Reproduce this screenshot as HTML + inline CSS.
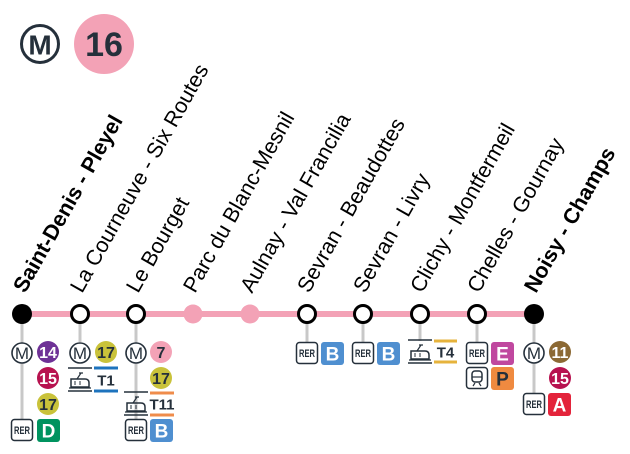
<!DOCTYPE html>
<html><head><meta charset="utf-8"><style>
html,body{margin:0;padding:0;background:#fff;}
svg{display:block;font-family:"Liberation Sans",Arial,sans-serif;}
</style></head><body>
<svg width="630" height="454" viewBox="0 0 630 454" xmlns="http://www.w3.org/2000/svg">
<defs>
  <g id="M"><circle r="10" fill="#fff" stroke="#25303b" stroke-width="1.6"/><text y="6" text-anchor="middle" font-size="17" font-weight="normal" fill="#25303b">M</text></g>
  <g id="RER"><rect x="-10.5" y="-10.5" width="21" height="21" rx="3" fill="#fff" stroke="#25303b" stroke-width="1.5"/><text y="4" text-anchor="middle" font-size="11" font-weight="bold" fill="#25303b" textLength="16" lengthAdjust="spacingAndGlyphs">RER</text></g>
  <g id="TRAM"><line x1="-12" y1="-12" x2="12" y2="-12" stroke="#25303b" stroke-width="1.5"/><line x1="-12" y1="11" x2="12" y2="11" stroke="#25303b" stroke-width="1.5"/>
    <path d="M-9 7 V-1 H5 Q9 -1 9 3 V7 Z" fill="none" stroke="#25303b" stroke-width="1.5"/><path d="M-3 -1 L1 -7 M-1 -7 H3" stroke="#25303b" stroke-width="1.2" fill="none"/><line x1="-11" y1="8" x2="11" y2="8" stroke="#25303b" stroke-width="1.2"/><path d="M-5 1 V5 M0 1 V5" stroke="#25303b" stroke-width="1"/></g>
  <g id="TRAIN"><rect x="-10.5" y="-10.5" width="21" height="21" rx="3" fill="#fff" stroke="#25303b" stroke-width="1.5"/><rect x="-5" y="-7" width="10" height="11" rx="3" fill="none" stroke="#25303b" stroke-width="1.5"/><line x1="-5" y1="-1" x2="5" y2="-1" stroke="#25303b" stroke-width="1.2"/><path d="M-4 8 L-2 5 M4 8 L2 5" stroke="#25303b" stroke-width="1.2"/></g>
</defs>

<circle cx="40" cy="44" r="18.5" fill="#fff" stroke="#25303b" stroke-width="3"/>
<text x="40" y="54.5" text-anchor="middle" font-size="28" font-weight="bold" fill="#25303b">M</text>
<circle cx="104" cy="44" r="30" fill="#f3a2b6"/>
<text x="104" y="56" text-anchor="middle" font-size="34" font-weight="bold" fill="#25303b">16</text>

<g font-size="21.5" fill="#000">
<text transform="translate(25,294) rotate(-60.5)" font-weight="bold">Saint-Denis - Pleyel</text>
<text transform="translate(82,294) rotate(-60.5)">La Courneuve - Six Routes</text>
<text transform="translate(138,294) rotate(-60.5)">Le Bourget</text>
<text transform="translate(195,294) rotate(-60.5)">Parc du Blanc-Mesnil</text>
<text transform="translate(252,294) rotate(-60.5)">Aulnay - Val Francilia</text>
<text transform="translate(309,294) rotate(-60.5)">Sevran - Beaudottes</text>
<text transform="translate(365,294) rotate(-60.5)">Sevran - Livry</text>
<text transform="translate(422,294) rotate(-60.5)">Clichy - Montfermeil</text>
<text transform="translate(479,294) rotate(-60.5)">Chelles - Gournay</text>
<text transform="translate(536,294) rotate(-60.5)" font-weight="bold">Noisy - Champs</text>
</g>

<g stroke="#c8c8c8" stroke-width="3">
<line x1="22" y1="314" x2="22" y2="420"/>
<line x1="80" y1="314" x2="80" y2="342"/>
<line x1="136" y1="314" x2="136" y2="420"/>
<line x1="307" y1="314" x2="307" y2="342"/>
<line x1="363" y1="314" x2="363" y2="342"/>
<line x1="420" y1="314" x2="420" y2="341"/>
<line x1="477" y1="314" x2="477" y2="342"/>
<line x1="534" y1="314" x2="534" y2="394"/>
</g>

<line x1="22" y1="314" x2="534" y2="314" stroke="#f3a2b6" stroke-width="6"/>
<circle cx="22" cy="314" r="10" fill="#000"/>
<circle cx="534" cy="314" r="10" fill="#000"/>
<g fill="#fff" stroke="#000" stroke-width="3">
<circle cx="80" cy="314" r="8.5"/><circle cx="136" cy="314" r="8.5"/>
<circle cx="307" cy="314" r="8.5"/><circle cx="363" cy="314" r="8.5"/>
<circle cx="420" cy="314" r="8.5"/><circle cx="477" cy="314" r="8.5"/>
</g>
<circle cx="193" cy="314" r="9.5" fill="#f3a2b6"/>
<circle cx="250" cy="314" r="9.5" fill="#f3a2b6"/>

<g font-weight="bold" text-anchor="middle" font-size="16">
<use href="#M" x="22" y="353"/>
<circle cx="48" cy="352" r="11" fill="#6e3196"/><text x="48" y="358" fill="#fff">14</text>
<circle cx="48" cy="378" r="11" fill="#b7124f"/><text x="48" y="384" fill="#fff">15</text>
<circle cx="48" cy="404" r="11" fill="#c9c23a"/><text x="48" y="410" fill="#25303b">17</text>
<use href="#RER" x="22" y="430"/>
<rect x="37" y="419" width="23" height="23" rx="3" fill="#00935f"/><text x="48.5" y="437.5" font-size="19" fill="#fff">D</text>

<use href="#M" x="80" y="353"/>
<circle cx="106" cy="352" r="11" fill="#c9c23a"/><text x="106" y="358" fill="#25303b">17</text>
<use href="#TRAM" x="80" y="380"/>
<line x1="94" y1="368" x2="118" y2="368" stroke="#1d73bd" stroke-width="3"/>
<line x1="94" y1="391" x2="118" y2="391" stroke="#1d73bd" stroke-width="3"/>
<text x="106" y="385.5" font-size="15" fill="#25303b">T1</text>

<use href="#M" x="136" y="353"/>
<circle cx="161" cy="352" r="11" fill="#f3a2b6"/><text x="161" y="358" fill="#25303b">7</text>
<circle cx="161" cy="378" r="11" fill="#c9c23a"/><text x="161" y="384" fill="#25303b">17</text>
<use href="#TRAM" x="136" y="404"/>
<line x1="150" y1="393" x2="174" y2="393" stroke="#ef8c4b" stroke-width="3"/>
<line x1="150" y1="415" x2="174" y2="415" stroke="#ef8c4b" stroke-width="3"/>
<text x="162" y="409.5" font-size="15" fill="#25303b">T11</text>
<use href="#RER" x="136" y="430"/>
<rect x="150" y="419" width="23" height="23" rx="3" fill="#4f8fd0"/><text x="161.5" y="437.5" font-size="19" fill="#fff">B</text>

<use href="#RER" x="307" y="353"/>
<rect x="321" y="342" width="23" height="23" rx="3" fill="#4f8fd0"/><text x="332.5" y="360.5" font-size="19" fill="#fff">B</text>

<use href="#RER" x="363" y="353"/>
<rect x="377" y="342" width="23" height="23" rx="3" fill="#4f8fd0"/><text x="388.5" y="360.5" font-size="19" fill="#fff">B</text>

<use href="#TRAM" x="420" y="352"/>
<line x1="434" y1="341" x2="457" y2="341" stroke="#e6b33c" stroke-width="3"/>
<line x1="434" y1="362" x2="457" y2="362" stroke="#e6b33c" stroke-width="3"/>
<text x="445.5" y="357.5" font-size="15" fill="#25303b">T4</text>

<use href="#RER" x="477" y="353"/>
<rect x="491" y="342" width="23" height="23" rx="3" fill="#c0489f"/><text x="502.5" y="360.5" font-size="19" fill="#fff">E</text>
<use href="#TRAIN" x="477" y="378"/>
<rect x="491" y="367" width="23" height="23" rx="3" fill="#ef8a40"/><text x="502.5" y="385.5" font-size="19" fill="#25303b">P</text>

<use href="#M" x="534" y="353"/>
<circle cx="560" cy="352" r="11" fill="#8c6934"/><text x="560" y="358" fill="#fff">11</text>
<circle cx="560" cy="378" r="11" fill="#b7124f"/><text x="560" y="384" fill="#fff">15</text>
<use href="#RER" x="534" y="404"/>
<rect x="548" y="393" width="23" height="23" rx="3" fill="#e3243b"/><text x="559.5" y="411.5" font-size="19" fill="#fff">A</text>
</g>
</svg>
</body></html>
